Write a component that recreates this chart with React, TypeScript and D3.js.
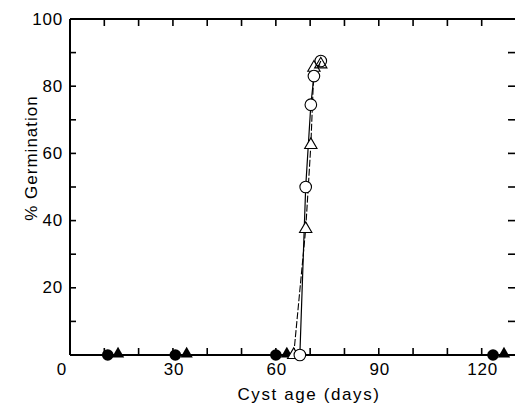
import * as d3 from "d3";

// open circles and open triangles, rising after ~65 days
const circleDays = [67, 68.7, 70.2, 71.1, 73.1];
const circleGerm = [0, 50, 74.5, 83, 87.5];
const triangleDays = [65.2, 68.7, 70.2, 71.1, 73.1];
const triangleGerm = [0, 37.5, 62.5, 85.5, 86.5];
// filled symbols stayed at 0 %
const filledCircleDays = [11, 30.7, 60, 123.3];
const filledTriangleDays = [14, 34, 63.2, 126.5];

const xTickLabels = [0, 30, 60, 90, 120];
const yTickLabels = [20, 40, 60, 80, 100];

const W = 515;
const H = 405;

export default function App() {
  const x = d3.scaleLinear().domain([0, 130]).range([70, 516]);
  const y = d3.scaleLinear().domain([0, 100]).range([355, 19]);

  const minorX = d3.range(10, 130, 10);
  const minorY = d3.range(10, 100, 10);

  const line = d3
    .line<[number, number]>()
    .x((d) => x(d[0]))
    .y((d) => y(d[1]));

  const circlePts = circleDays.map((d, i) => [d, circleGerm[i]] as [number, number]);
  const triPts = triangleDays.map((d, i) => [d, triangleGerm[i]] as [number, number]);

  const tri = d3.symbol().type(d3.symbolTriangle).size(66);
  const font = "'Liberation Sans', Arial, Helvetica, sans-serif";

  return (
    <svg
      width={W}
      height={H}
      style={{ position: "absolute", left: 0, top: 0, background: "#fff" }}
      fontFamily={font}
    >
      {/* frame */}
      <g stroke="#000" strokeWidth={2} fill="none">
        <line x1={x(0)} x2={x(130)} y1={y(0)} y2={y(0)} />
        <line x1={x(0)} x2={x(130)} y1={y(100)} y2={y(100)} />
        <line x1={x(0)} x2={x(0)} y1={y(0)} y2={y(100)} />
        <line x1={x(130)} x2={x(130)} y1={y(0)} y2={y(100)} />
      </g>
      <g stroke="#000" strokeWidth={1.6}>
        {minorX.map((t) => (
          <g key={"xt" + t}>
            <line x1={x(t)} x2={x(t)} y1={y(0)} y2={y(0) - 7} />
            <line x1={x(t)} x2={x(t)} y1={y(100)} y2={y(100) + 7} />
          </g>
        ))}
        {minorY.map((t) => (
          <g key={"yt" + t}>
            <line x1={x(0)} x2={x(0) + 6} y1={y(t)} y2={y(t)} />
            <line x1={x(130) - 8} x2={x(130)} y1={y(t)} y2={y(t)} />
          </g>
        ))}
      </g>

      {/* tick labels */}
      <g fontSize={17} fill="#000" letterSpacing={0.8}>
        {yTickLabels.map((t) => (
          <text key={"yl" + t} x={63} y={y(t)} textAnchor="end" dominantBaseline="central">
            {t}
          </text>
        ))}
        {xTickLabels.map((t) => (
          <text
            key={"xl" + t}
            x={t === 0 ? x(t) - 8 : x(t) + 1}
            y={375}
            textAnchor="middle"
          >
            {t}
          </text>
        ))}
      </g>

      {/* axis titles */}
      <text x={309} y={400} textAnchor="middle" fontSize={17} letterSpacing={1.6}>
        Cyst age (days)
      </text>
      <text
        transform="translate(37,158) rotate(-90)"
        textAnchor="middle"
        fontSize={17}
        letterSpacing={1}
      >
        % Germination
      </text>

      {/* curves */}
      <path d={line(triPts) ?? ""} fill="none" stroke="#000" strokeWidth={1.1} strokeDasharray="7,2" />
      <path d={line(circlePts) ?? ""} fill="none" stroke="#000" strokeWidth={1.2} />

      {/* filled symbols on baseline */}
      {filledCircleDays.map((d, i) => (
        <circle key={"fc" + i} cx={x(d)} cy={y(0)} r={5.8} fill="#000" />
      ))}
      {filledTriangleDays.map((d, i) => (
        <path key={"ft" + i} d={tri() ?? ""} transform={`translate(${x(d)},${y(0) - 1})`} fill="#000" />
      ))}

      {/* open symbols */}
      {triPts.map((p, i) => (
        <path
          key={"ot" + i}
          d={tri() ?? ""}
          transform={`translate(${x(p[0])},${y(p[1])})`}
          fill="#fff"
          fillOpacity={i === 4 ? 0 : 1}
          stroke="#000"
          strokeWidth={1.1}
        />
      ))}
      {circlePts.map((p, i) => (
        <circle
          key={"oc" + i}
          cx={x(p[0])}
          cy={y(p[1])}
          r={5.8}
          fill="#fff"
          fillOpacity={i === 4 ? 0 : 1}
          stroke="#000"
          strokeWidth={1.1}
        />
      ))}
    </svg>
  );
}
